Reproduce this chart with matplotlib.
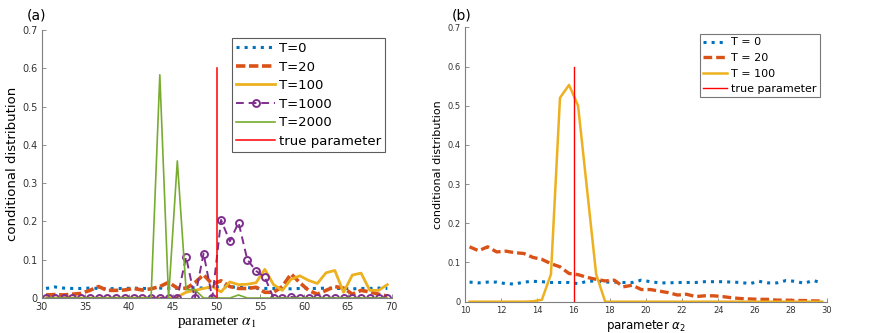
import matplotlib.pyplot as plt

# colours (MATLAB default order)
c_blue = '#0072BD'
c_orange = '#D95319'
c_yellow = '#EDB120'
c_purple = '#7E2F8E'
c_green = '#77AC30'
c_gray = '#7f7f7f'

# ---------------- panel (a) data ----------------
alpha1 = [30.5, 31.5, 32.5, 33.5, 34.5, 35.5, 36.5, 37.5, 38.5, 39.5,
          40.5, 41.5, 42.5, 43.5, 44.5, 45.5, 46.5, 47.5, 48.5, 49.5,
          50.5, 51.5, 52.5, 53.5, 54.5, 55.5, 56.5, 57.5, 58.5, 59.5,
          60.5, 61.5, 62.5, 63.5, 64.5, 65.5, 66.5, 67.5, 68.5, 69.5]
a_T0 = [0.025, 0.029, 0.026, 0.025, 0.025, 0.026, 0.025, 0.024, 0.025, 0.025,
        0.026, 0.025, 0.025, 0.026, 0.025, 0.025, 0.026, 0.027, 0.026, 0.028,
        0.030, 0.029, 0.028, 0.027, 0.026, 0.025, 0.025, 0.025, 0.024, 0.025,
        0.025, 0.025, 0.026, 0.025, 0.025, 0.024, 0.025, 0.025, 0.026, 0.025]
a_T20 = [0.008, 0.009, 0.008, 0.010, 0.012, 0.020, 0.030, 0.020, 0.020, 0.021,
         0.025, 0.021, 0.024, 0.030, 0.041, 0.026, 0.025, 0.040, 0.061, 0.036,
         0.045, 0.030, 0.025, 0.025, 0.028, 0.015, 0.015, 0.030, 0.063, 0.040,
         0.020, 0.010, 0.020, 0.030, 0.026, 0.010, 0.020, 0.016, 0.010, 0.005]
a_T100 = [0.0, 0.0, 0.0, 0.0, 0.0, 0.0, 0.0, 0.0, 0.0, 0.0,
          0.0, 0.0, 0.0, 0.0, 0.0, 0.003, 0.015, 0.020, 0.025, 0.030,
          0.016, 0.042, 0.035, 0.036, 0.040, 0.075, 0.035, 0.020, 0.049, 0.058,
          0.046, 0.038, 0.066, 0.072, 0.015, 0.060, 0.065, 0.020, 0.020, 0.035]
a_T1000 = [0.0, 0.0, 0.0, 0.0, 0.0, 0.0, 0.0, 0.0, 0.0, 0.0,
           0.0, 0.0, 0.0, 0.0, 0.0, 0.0, 0.107, 0.0, 0.116, 0.0,
           0.204, 0.148, 0.197, 0.100, 0.071, 0.054, 0.0, 0.0, 0.003, 0.0,
           0.0, 0.0, 0.0, 0.0, 0.0, 0.0, 0.0, 0.0, 0.0, 0.0]
a_T2000 = [0.0, 0.0, 0.0, 0.0, 0.0, 0.0, 0.0, 0.0, 0.0, 0.0,
           0.0, 0.0, 0.0, 0.583, 0.0, 0.358, 0.022, 0.022, 0.0, 0.0,
           0.0, 0.0, 0.008, 0.0, 0.0, 0.0, 0.0, 0.0, 0.0, 0.0,
           0.0, 0.0, 0.0, 0.0, 0.0, 0.0, 0.0, 0.0, 0.0, 0.0]
a_true = 50

# ---------------- panel (b) data ----------------
alpha2 = [10.25, 10.75, 11.25, 11.75, 12.25, 12.75, 13.25, 13.75, 14.25, 14.75,
          15.25, 15.75, 16.25, 16.75, 17.25, 17.75, 18.25, 18.75, 19.25, 19.75,
          20.25, 20.75, 21.25, 21.75, 22.25, 22.75, 23.25, 23.75, 24.25, 24.75,
          25.25, 25.75, 26.25, 26.75, 27.25, 27.75, 28.25, 28.75, 29.25, 29.75]
b_T0 = [0.050, 0.048, 0.050, 0.050, 0.046, 0.045, 0.050, 0.052, 0.051, 0.049,
        0.049, 0.049, 0.046, 0.052, 0.053, 0.050, 0.050, 0.049, 0.049, 0.055,
        0.051, 0.048, 0.048, 0.049, 0.049, 0.049, 0.051, 0.051, 0.051, 0.050,
        0.049, 0.046, 0.052, 0.048, 0.048, 0.054, 0.052, 0.047, 0.054, 0.048]
b_T20 = [0.140, 0.130, 0.140, 0.127, 0.129, 0.125, 0.123, 0.113, 0.108, 0.097,
         0.089, 0.072, 0.069, 0.062, 0.057, 0.053, 0.055, 0.038, 0.042, 0.031,
         0.031, 0.027, 0.023, 0.017, 0.019, 0.013, 0.015, 0.015, 0.013, 0.010,
         0.008, 0.007, 0.006, 0.006, 0.004, 0.004, 0.003, 0.003, 0.002, 0.002]
b_T100 = [0.0, 0.0, 0.0, 0.0, 0.0, 0.0, 0.0, 0.001, 0.005, 0.070,
          0.520, 0.553, 0.500, 0.285, 0.070, 0.0, 0.0, 0.0, 0.0, 0.0,
          0.0, 0.0, 0.0, 0.0, 0.0, 0.0, 0.0, 0.0, 0.0, 0.0,
          0.0, 0.0, 0.0, 0.0, 0.0, 0.0, 0.0, 0.0, 0.0, 0.0]
b_true = 16

fig = plt.figure(figsize=(8.72, 3.33), dpi=100)
ax1 = fig.add_axes([0.0478, 0.105, 0.4014, 0.805])
ax2 = fig.add_axes([0.5333, 0.094, 0.4148, 0.824])


def style_axis(ax, fs):
    for s in ['top', 'right']:
        ax.spines[s].set_visible(False)
    for s in ['left', 'bottom']:
        ax.spines[s].set_color(c_gray)
        ax.spines[s].set_linewidth(0.8)
    ax.tick_params(direction='in', length=3, width=0.6, colors=c_gray,
                   labelcolor='#333333', labelsize=fs)
    ax.tick_params(axis='x', pad=3)
    ax.tick_params(axis='y', pad=3)


# panel (a)
ax1.plot(alpha1, a_T0, ':', color=c_blue, lw=2.2, label='T=0')
ax1.plot(alpha1, a_T20, '--', color=c_orange, lw=2.6, dashes=(2.6, 1.0), label='T=20')
ax1.plot(alpha1, a_T100, '-', color=c_yellow, lw=2.0, label='T=100')
ax1.plot(alpha1, a_T1000, '--', color=c_purple, lw=1.4, dashes=(4, 2.5), marker='o',
         ms=5, mfc='none', mew=1.4, label='T=1000')
ax1.plot(alpha1, a_T2000, '-', color=c_green, lw=1.2, label='T=2000')
ax1.plot([a_true, a_true], [0, 0.6], '-', color='red', lw=1.1, label='true parameter')
ax1.set_xlim(30, 70)
ax1.set_ylim(0, 0.7)
ax1.set_xticks(range(30, 71, 5))
ax1.set_yticks([0, 0.1, 0.2, 0.3, 0.4, 0.5, 0.6, 0.7])
ax1.set_yticklabels(['0', '0.1', '0.2', '0.3', '0.4', '0.5', '0.6', '0.7'])
style_axis(ax1, 7)
ax1.set_ylabel('conditional distribution', fontsize=9.5, labelpad=2)
ax1.set_xlabel(r'parameter $\alpha_1$', fontsize=11, family='Liberation Serif',
               math_fontfamily='stix', labelpad=1)
leg1 = ax1.legend(loc='upper right', bbox_to_anchor=(0.98, 0.97), fontsize=9.5,
                  frameon=True, fancybox=False, edgecolor='#333333',
                  handlelength=2.9, handletextpad=0.3, labelspacing=0.42,
                  borderpad=0.3, borderaxespad=0)
leg1.get_frame().set_linewidth(0.8)
fig.text(0.031, 0.975, '(a)', fontsize=10, va='top')

# panel (b)
ax2.plot(alpha2, b_T0, ':', color=c_blue, lw=2.2, label='T = 0')
ax2.plot(alpha2, b_T20, '--', color=c_orange, lw=2.4, dashes=(2.6, 1.2), label='T = 20')
ax2.plot(alpha2, b_T100, '-', color=c_yellow, lw=1.8, label='T = 100')
ax2.plot([b_true, b_true], [0, 0.6], '-', color='red', lw=1.0, label='true parameter')
ax2.set_xlim(10, 30)
ax2.set_ylim(0, 0.7)
ax2.set_xticks(range(10, 31, 2))
ax2.set_yticks([0, 0.1, 0.2, 0.3, 0.4, 0.5, 0.6, 0.7])
ax2.set_yticklabels(['0', '0.1', '0.2', '0.3', '0.4', '0.5', '0.6', '0.7'])
style_axis(ax2, 6)
ax2.set_ylabel('conditional distribution', fontsize=8, labelpad=3)
ax2.set_xlabel(r'parameter $\alpha_2$', fontsize=8.5, labelpad=2)
leg2 = ax2.legend(loc='upper right', bbox_to_anchor=(0.98, 0.975), fontsize=8,
                  frameon=True, fancybox=False, edgecolor='#555555',
                  handlelength=2.2, handletextpad=0.3, labelspacing=0.5,
                  borderpad=0.3, borderaxespad=0)
leg2.get_frame().set_linewidth(0.8)
fig.text(0.518, 0.975, '(b)', fontsize=10, va='top')

fig.savefig('out.png', dpi=100)
